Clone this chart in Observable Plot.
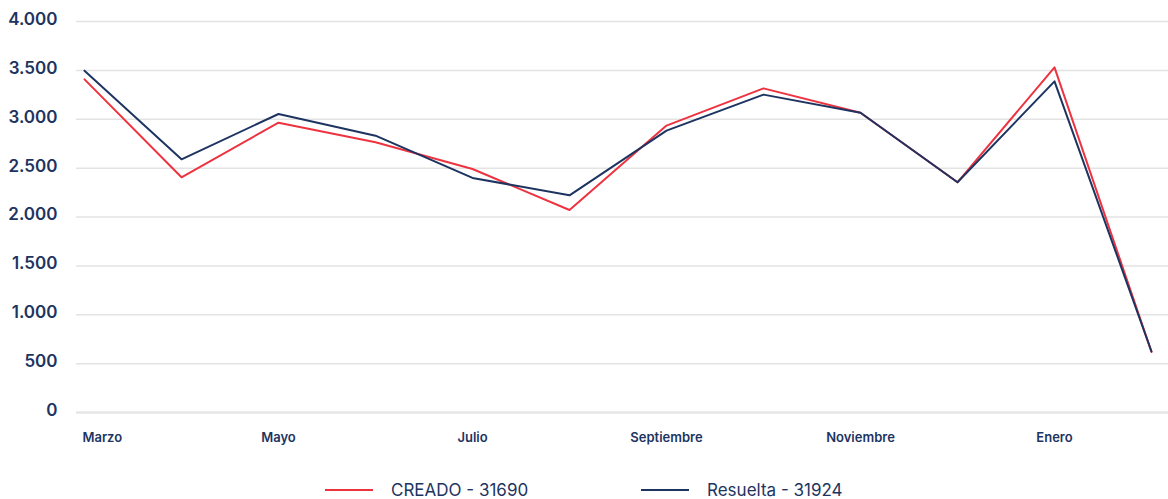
<!DOCTYPE html>
<html>
<head>
<meta charset="utf-8">
<script src="https://cdn.jsdelivr.net/npm/d3@7"></script>
<script src="https://cdn.jsdelivr.net/npm/@observablehq/plot@0.6"></script>
<style>
  html, body { margin: 0; padding: 0; background: #fff; }
  #chart { width: 1168px; }
  .legend { position: relative; width: 1168px; height: 37px; font-family: Inter, "Noto Sans", sans-serif; font-size: 17px; color: #1d3461; }
  .legend .item { position: absolute; top: 18px; display: flex; align-items: center; gap: 18px; line-height: 20px; }
  .legend .swatch { width: 48px; height: 2px; }
</style>
</head>
<body>
<div id="chart"></div>
<div class="legend" id="legend"></div>
<script>
const months = ["Marzo","Abril","Mayo","Junio","Julio","Agosto","Septiembre","Octubre","Noviembre","Diciembre","Enero","Febrero"];
const creado   = [3408, 2406, 2965, 2764, 2491, 2072, 2935, 3316, 3067, 2355, 3531, 620];
const resuelta = [3497, 2590, 3054, 2832, 2400, 2222, 2883, 3252, 3067, 2355, 3388, 624];
const xTickLabels = ["Marzo","Mayo","Julio","Septiembre","Noviembre","Enero"];
const yTicks = [0, 500, 1000, 1500, 2000, 2500, 3000, 3500, 4000];
const seriesNames = ["CREADO - 31690", "Resuelta - 31924"];
const seriesColors = ["#ee3340", "#1d3461"];

const rows = [];
months.forEach((m, i) => {
  rows.push({month: m, value: creado[i], series: seriesNames[0]});
  rows.push({month: m, value: resuelta[i], series: seriesNames[1]});
});

const esFormat = d3.formatLocale({decimal: ",", thousands: ".", grouping: [3], currency: ["", "€"]}).format(",");
const navy = "#1d3461";

const chart = Plot.plot({
  width: 1168,
  height: 462,
  marginLeft: 76,
  marginRight: 0,
  marginTop: 21,
  marginBottom: 50,
  style: {fontFamily: "Inter, 'Noto Sans', sans-serif", background: "#fff"},
  x: {type: "point", domain: months, padding: 0, range: [80, 1155], axis: null},
  y: {domain: [0, 4000], axis: null},
  color: {domain: seriesNames, range: seriesColors},
  marks: [
    Plot.ruleY(yTicks.filter(d => d !== 0), {stroke: "#e3e3e3", strokeWidth: 1.5}),
    Plot.ruleY([0], {stroke: "#e6e6e6", strokeWidth: 2.5}),
    Plot.text(yTicks, {
      y: d => d, text: d => esFormat(d),
      frameAnchor: "left", textAnchor: "end", dx: -19, dy: -2,
      fontSize: 17, fontWeight: 600, fill: navy
    }),
    Plot.line(rows.filter(r => r.series === seriesNames[0]), {x: "month", y: "value", stroke: "series", strokeWidth: 2}),
    Plot.line(rows.filter(r => r.series === seriesNames[1]), {x: "month", y: "value", stroke: "series", strokeWidth: 2}),
    Plot.text(xTickLabels.slice(0, 1), {
      x: d => d, frameAnchor: "bottom", dy: 29, dx: -2,
      textAnchor: "start",
      fontSize: 13, fontWeight: 600, fill: navy
    }),
    Plot.text(xTickLabels.slice(1), {
      x: d => d, frameAnchor: "bottom", dy: 29,
      textAnchor: "middle",
      fontSize: 13, fontWeight: 600, fill: navy
    })
  ]
});
document.getElementById("chart").appendChild(chart);

const legend = document.getElementById("legend");
const positions = [325, 641];
seriesNames.forEach((name, i) => {
  const item = document.createElement("div");
  item.className = "item";
  item.style.left = positions[i] + "px";
  const sw = document.createElement("div");
  sw.className = "swatch";
  sw.style.background = seriesColors[i];
  const tx = document.createElement("span");
  tx.textContent = name;
  item.appendChild(sw);
  item.appendChild(tx);
  legend.appendChild(item);
});
</script>
</body>
</html>
